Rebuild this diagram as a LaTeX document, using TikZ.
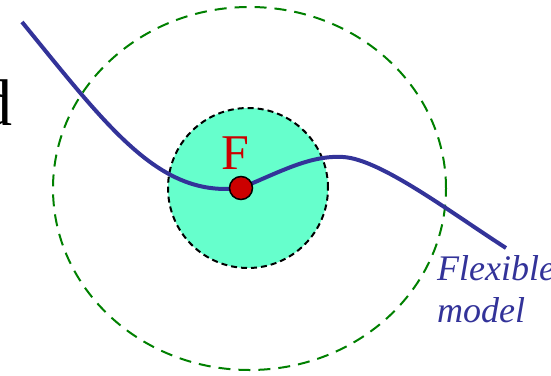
\documentclass[tikz,border=0pt]{standalone}
\usepackage{fontspec}
\setmainfont{Liberation Serif}
\usetikzlibrary{shapes.geometric}
\definecolor{curveblue}{HTML}{333399}
\definecolor{ringgreen}{HTML}{008000}
\definecolor{aqua}{HTML}{66FFCC}
\definecolor{fred}{HTML}{CC0000}
\tikzset{
  outerring/.style={draw=ringgreen, line width=2pt, dash pattern=on 12pt off 8pt},
  innerdisk/.style={draw=black, fill=aqua, line width=2pt, dash pattern=on 6pt off 4pt},
  flexcurve/.style={draw=curveblue, line width=4pt},
  reddot/.style={circle, fill=fred, draw=black, line width=1.5pt, minimum size=23pt, inner sep=0pt},
  labeltext/.style={inner sep=0pt, text=curveblue, font=\fontsize{36}{40}\selectfont\itshape},
}
\begin{document}
\begin{tikzpicture}[x=1pt,y=-1pt]
\useasboundingbox (0,0) rectangle (551,375);
\clip (0,0) rectangle (551,375);
\node[inner sep=0pt, anchor=base east, font=\fontsize{66}{70}\selectfont] (d) at (13,125) {d};
\node[outerring, ellipse, minimum width=393pt, minimum height=363pt, inner sep=0pt] (outer) at (249.5,188.5) {};
\node[innerdisk, circle, minimum size=160pt, inner sep=0pt] (inner) at (248,188) {};
\coordinate (s) at (22,22);
\coordinate (p) at (343,157);
\coordinate (e) at (506,248);
\coordinate (dc) at (241,188);
\draw[flexcurve] (s) .. controls (110,130) and (160,198) .. (dc)
   .. controls (280,172) and (310,155) .. (p)
   .. controls (380,159) and (450,212) .. (e);
\node[reddot] (dot) at (dc) {};
\node[inner sep=0pt, anchor=base, text=fred, font=\fontsize{50}{55}\selectfont] (F) at (235,169) {F};
\node[labeltext, anchor=base west] (flex) at (437,280) {Flexible};
\node[labeltext, anchor=base west] (model) at (437,322) {model};
\end{tikzpicture}
\end{document}
